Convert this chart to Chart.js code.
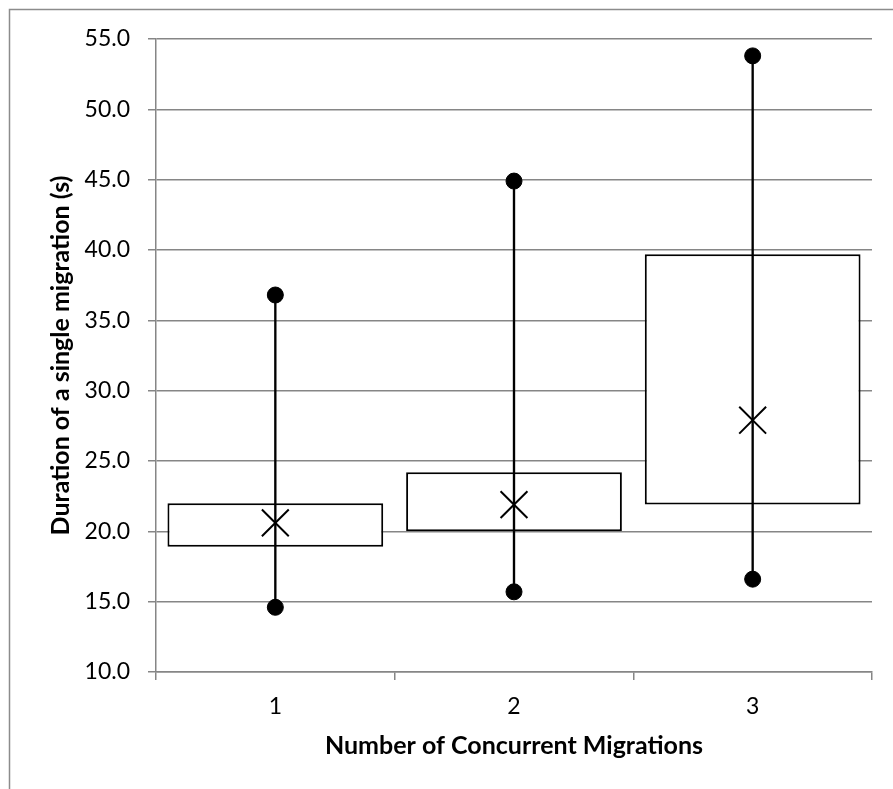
<!DOCTYPE html>
<html>
<head>
<meta charset="utf-8">
<script src="https://cdn.jsdelivr.net/npm/chart.js@4"></script>
<style>
  html, body { margin: 0; padding: 0; background: #ffffff; }
  #wrap { width: 893px; height: 789px; }
</style>
</head>
<body>
<div id="wrap"><canvas id="chart" width="893" height="789"></canvas></div>
<script>
// values
const categories = ['1', '2', '3'];
const lowValues = [14.6, 15.7, 16.6];
const q1Values = [18.9, 20.0, 21.9];
const meanValues = [20.6, 21.9, 27.9];
const q3Values = [22.0, 24.2, 39.7];
const highValues = [36.8, 44.9, 53.8];

const yMin = 10;
const yMax = 55;
const yStep = 5;

const gridGray = '#868686';
const fontFamily = 'Lato, "Open Sans", sans-serif';

// white page with a thin grey frame, like the Excel chart area
const framePlugin = {
    id: 'frame',
    beforeDraw(chart) {
        let ctx = chart.ctx;
        ctx.save();
        ctx.fillStyle = '#ffffff';
        ctx.fillRect(0, 0, chart.width, chart.height);
        ctx.strokeStyle = '#8c8c8c';
        ctx.lineWidth = 1.5;
        ctx.strokeRect(9.5, 9.5, chart.width + 20, chart.height + 20);
        ctx.restore();
    }
};

const data = {
    labels: categories,
    datasets: [
        {
            type: 'line',
            label: 'Mean',
            data: meanValues,
            showLine: false,
            pointStyle: 'crossRot',
            pointRadius: 19,
            pointHoverRadius: 19,
            pointBorderWidth: 2,
            borderColor: '#000000',
            backgroundColor: '#000000',
            order: 1
        },
        {
            type: 'line',
            label: 'High',
            data: highValues,
            showLine: false,
            pointStyle: 'circle',
            pointRadius: 8,
            pointHoverRadius: 8,
            borderColor: '#000000',
            backgroundColor: '#000000',
            order: 2
        },
        {
            type: 'line',
            label: 'Low',
            data: lowValues,
            showLine: false,
            pointStyle: 'circle',
            pointRadius: 8,
            pointHoverRadius: 8,
            borderColor: '#000000',
            backgroundColor: '#000000',
            order: 2
        },
        {
            type: 'bar',
            label: 'Range',
            data: lowValues.map((v, i) => [v, highValues[i]]),
            backgroundColor: '#000000',
            borderWidth: 0,
            barThickness: 1.7,
            grouped: false,
            order: 3
        },
        {
            type: 'bar',
            label: 'Box',
            data: q1Values.map((v, i) => [v, q3Values[i]]),
            backgroundColor: '#ffffff',
            borderColor: '#000000',
            borderWidth: 2,
            borderSkipped: false,
            categoryPercentage: 0.904,
            barPercentage: 1.0,
            grouped: false,
            order: 4
        }
    ]
};

const config = {
    type: 'bar',
    data: data,
    plugins: [framePlugin],
    options: {
        responsive: false,
        animation: false,
        layout: {
            padding: { left: 0, top: 39, right: 20, bottom: 0 }
        },
        plugins: {
            legend: { display: false },
            tooltip: { enabled: false }
        },
        scales: {
            x: {
                offset: true,
                grid: {
                    offset: true,
                    drawOnChartArea: false,
                    color: gridGray,
                    lineWidth: 1.5,
                    tickLength: 8
                },
                border: { color: gridGray, width: 1.5 },
                ticks: {
                    color: '#000000',
                    padding: 13,
                    font: { family: fontFamily, size: 23 }
                },
                title: {
                    display: true,
                    text: 'Number of Concurrent Migrations',
                    color: '#000000',
                    font: { family: fontFamily, size: 25, weight: 'bold' },
                    padding: { top: 0, bottom: 28 }
                },
                afterFit(scale) {
                    scale.height = 117;
                }
            },
            y: {
                min: yMin,
                max: yMax,
                grid: {
                    color: gridGray,
                    lineWidth: 1.5,
                    tickLength: 8
                },
                border: { color: gridGray, width: 1.5 },
                ticks: {
                    stepSize: yStep,
                    color: '#000000',
                    padding: 18,
                    font: { family: fontFamily, size: 23 },
                    callback: (v) => v.toFixed(1)
                },
                title: {
                    display: true,
                    text: 'Duration of a single migration (s)',
                    color: '#000000',
                    font: { family: fontFamily, size: 25, weight: 'bold' },
                    padding: { top: 46, bottom: 0 }
                },
                afterFit(scale) {
                    scale.width = 156;
                }
            }
        }
    }
};

let chart = new Chart(document.getElementById('chart').getContext('2d'), config);
</script>
</body>
</html>
